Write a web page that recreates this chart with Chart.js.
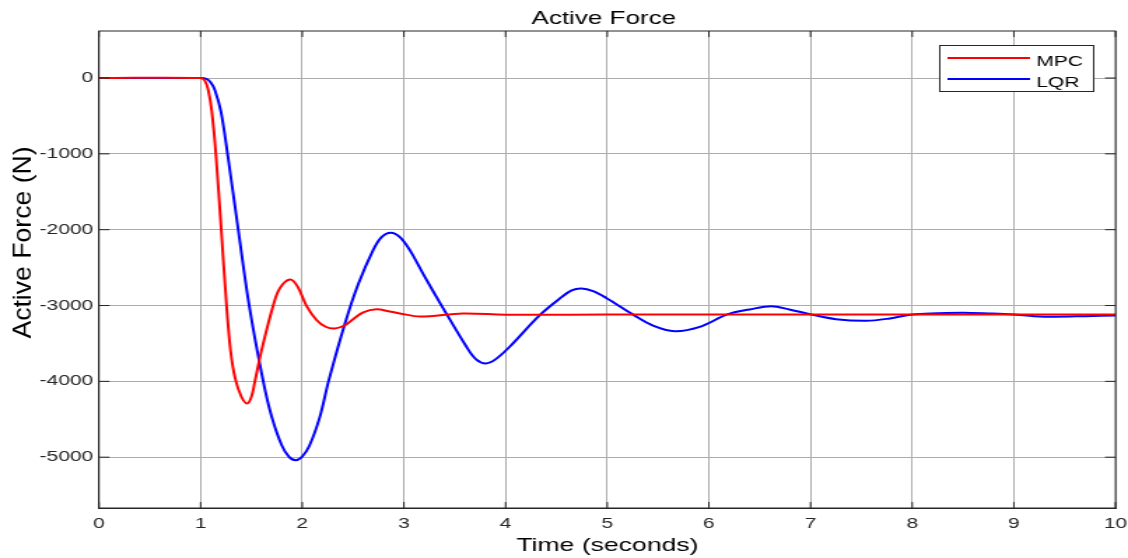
<!DOCTYPE html>
<html>
<head>
<meta charset="utf-8">
<script src="https://cdn.jsdelivr.net/npm/chart.js@4.4.0/dist/chart.umd.min.js"></script>
<style>
  html, body { margin: 0; padding: 0; background: #fff; overflow: hidden; }
</style>
</head>
<body>
<canvas id="c" width="806" height="558" style="display:block;width:1128px;height:558px;"></canvas>
<script>
// ---- data ----
const chartTitle = 'Active Force';
const xTitle = 'Time (seconds)';
const yTitle = 'Active Force (N)';
const seriesNames = ['MPC', 'LQR'];
const xTicks = [0, 1, 2, 3, 4, 5, 6, 7, 8, 9, 10];
const yTicks = [0, -1000, -2000, -3000, -4000, -5000];

const tMPC = [0, 1.0, 1.04, 1.075, 1.11, 1.15, 1.203, 1.255, 1.295, 1.34, 1.40, 1.458, 1.50, 1.534, 1.60, 1.714, 1.78, 1.878, 1.95, 2.04, 2.14, 2.23, 2.32, 2.42, 2.50, 2.60, 2.73, 2.85, 2.96, 3.16, 3.58, 4.0, 5.0, 6.0, 7.0, 8.0, 9.0, 10.0];
const fMPC = [0, 0, -30, -158, -440, -1000, -2000, -3000, -3600, -3960, -4200, -4292, -4203, -4000, -3588, -3000, -2770, -2656, -2740, -3000, -3190, -3280, -3302, -3260, -3180, -3090, -3050, -3075, -3104, -3145, -3105, -3122, -3120, -3120, -3120, -3120, -3120, -3120];

const tLQR = [0, 1.0, 1.06, 1.10, 1.14, 1.20, 1.265, 1.37, 1.478, 1.616, 1.70, 1.80, 1.87, 1.937, 2.0, 2.07, 2.173, 2.258, 2.42, 2.55, 2.697, 2.78, 2.871, 2.96, 3.058, 3.20, 3.37, 3.615, 3.71, 3.805, 3.90, 4.04, 4.336, 4.55, 4.65, 4.746, 4.86, 4.99, 5.254, 5.45, 5.664, 5.91, 6.18, 6.40, 6.614, 6.80, 7.007, 7.25, 7.548, 7.78, 8.0, 8.25, 8.5, 8.75, 8.99, 9.20, 9.40, 9.70, 10.0];
const fLQR = [0, 0, -13, -60, -158, -444, -1000, -2000, -3000, -4000, -4470, -4850, -4995, -5040, -4990, -4850, -4468, -4000, -3236, -2720, -2269, -2097, -2040, -2097, -2269, -2610, -3000, -3544, -3710, -3764, -3710, -3544, -3127, -2890, -2800, -2775, -2810, -2900, -3120, -3265, -3338, -3281, -3118, -3052, -3008, -3055, -3118, -3180, -3202, -3170, -3118, -3103, -3096, -3105, -3118, -3140, -3148, -3140, -3130];

const xMin = 0, xMax = 10;
const yMin = -5670, yMax = 620;

// ---- styling ----
const FONT = "'Liberation Sans', Arial, Helvetica, sans-serif";
const TEXT = '#262626';

function pts(ts, fs) { return ts.map((t, i) => ({ x: t, y: fs[i] })); }
function noPad(s) { s.paddingLeft = 0; s.paddingRight = 0; s.paddingTop = 0; s.paddingBottom = 0; }

const decor = {
  id: 'decor',
  afterDraw(chart) {
    const ctx = chart.ctx;
    const a = chart.chartArea;
    const xs = chart.scales.x, ys = chart.scales.y;
    ctx.save();
    // frame
    ctx.strokeStyle = TEXT;
    ctx.lineWidth = 1;
    ctx.strokeRect(a.left, a.top, a.right - a.left, a.bottom - a.top);
    // tick marks
    ctx.beginPath();
    xTicks.forEach(v => {
      const p = xs.getPixelForValue(v);
      ctx.moveTo(p, a.bottom); ctx.lineTo(p, a.bottom - 6);
      ctx.moveTo(p, a.top); ctx.lineTo(p, a.top + 6);
    });
    yTicks.forEach(v => {
      const p = ys.getPixelForValue(v);
      ctx.moveTo(a.left, p); ctx.lineTo(a.left + 7.5, p);
      ctx.moveTo(a.right, p); ctx.lineTo(a.right - 7.5, p);
    });
    ctx.stroke();

    // chart title
    ctx.fillStyle = '#000';
    ctx.textAlign = 'center';
    ctx.textBaseline = 'alphabetic';
    ctx.font = '18.6px ' + FONT;
    ctx.fillText(chartTitle, 431.4, 23.5);
    // x title
    ctx.font = '19px ' + FONT;
    ctx.fillText(xTitle, 434, 551);
    // y title (rotated)
    ctx.save();
    ctx.translate(22, 242.5);
    ctx.rotate(-Math.PI / 2);
    ctx.scale(1.4, 1);
    ctx.font = '19px ' + FONT;
    ctx.fillText(yTitle, 0, 0);
    ctx.restore();

    // legend
    const lx = 671.5, ly = 45.5, lw = 110, lh = 46;
    ctx.fillStyle = '#fff';
    ctx.fillRect(lx, ly, lw, lh);
    ctx.strokeStyle = '#262626';
    ctx.lineWidth = 1;
    ctx.strokeRect(lx, ly, lw, lh);
    const rows = [58, 79];
    chart.data.datasets.forEach((ds, i) => {
      const y = rows[i];
      ctx.strokeStyle = ds.borderColor;
      ctx.lineWidth = 2;
      ctx.beginPath();
      ctx.moveTo(677, y); ctx.lineTo(736, y);
      ctx.stroke();
      ctx.fillStyle = '#000';
      ctx.textAlign = 'left';
      ctx.textBaseline = 'alphabetic';
      ctx.font = '15px ' + FONT;
      ctx.fillText(ds.label, 740.5, y + 7.5);
    });
    ctx.restore();
  }
};

new Chart(document.getElementById('c'), {
  type: 'line',
  data: {
    datasets: [
      { label: seriesNames[0], data: pts(tMPC, fMPC), borderColor: 'rgb(255,0,0)', borderWidth: 2,
        pointRadius: 0, fill: false, tension: 0.35 },
      { label: seriesNames[1], data: pts(tLQR, fLQR), borderColor: 'rgb(0,0,255)', borderWidth: 2,
        pointRadius: 0, fill: false, tension: 0.35 }
    ]
  },
  options: {
    responsive: false,
    devicePixelRatio: 1,
    animation: false,
    layout: { padding: { top: 31, right: 8.9, left: 0, bottom: 0 } },
    plugins: { legend: { display: false }, title: { display: false }, tooltip: { enabled: false } },
    scales: {
      x: {
        type: 'linear', min: xMin, max: xMax,
        afterBuildTicks: s => { s.ticks = xTicks.map(v => ({ value: v })); },
        afterFit: s => { s.height = 50; noPad(s); },
        ticks: { font: { family: FONT, size: 15 }, color: TEXT, padding: 7, maxRotation: 0, autoSkip: false,
                 callback: v => String(v) },
        grid: { color: '#acacac', lineWidth: 1, drawTicks: false },
        border: { display: true, color: TEXT, width: 1 }
      },
      y: {
        type: 'linear', min: yMin, max: yMax,
        afterBuildTicks: s => { s.ticks = yTicks.map(v => ({ value: v })); },
        afterFit: s => { s.width = 70.7; noPad(s); },
        ticks: { font: { family: FONT, size: 15 }, color: TEXT, padding: 4, autoSkip: false,
                 callback: v => String(v) },
        grid: { color: '#acacac', lineWidth: 1, drawTicks: false },
        border: { display: true, color: TEXT, width: 1 }
      }
    }
  },
  plugins: [decor]
});
</script>
</body>
</html>
